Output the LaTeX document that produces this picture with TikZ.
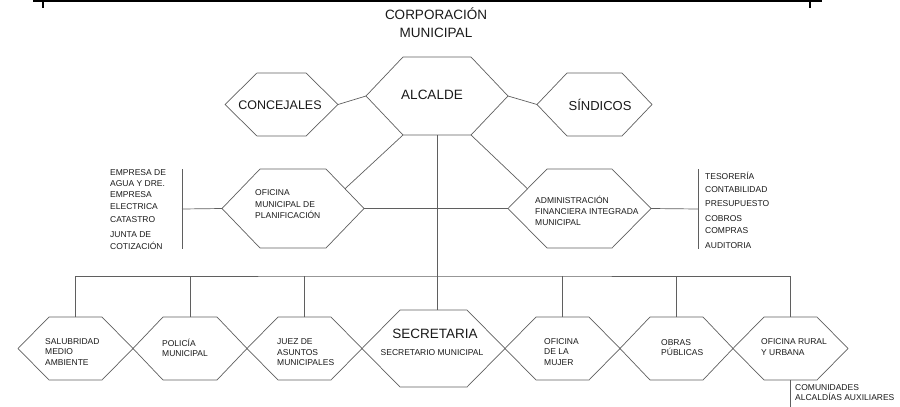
\documentclass[tikz,border=0pt]{standalone}
\usepackage{fontspec}
\setmainfont{Liberation Sans}
\usetikzlibrary{calc}

\definecolor{LineGray}{RGB}{95,95,95}
\definecolor{TextDark}{RGB}{25,25,25}

% hexagon: name, x, y, width, height, inset
\newcommand{\hexbox}[6]{%
  \node[hexcore, minimum width=#4pt, minimum height=#5pt] (#1) at (#2,#3) {};
  \draw[hexline] (#1.west) -- ([xshift=#6pt]#1.north west) -- ([xshift=-#6pt]#1.north east)
    -- (#1.east) -- ([xshift=-#6pt]#1.south east) -- ([xshift=#6pt]#1.south west) -- cycle;
}

\tikzset{
  hexcore/.style={rectangle, inner sep=0pt, outer sep=0pt},
  hexline/.style={draw=LineGray, line width=0.7pt},
  link/.style={draw=LineGray, line width=0.7pt},
  bigtext/.style={font=\fontsize{13.5}{16}\selectfont, text=TextDark, inner sep=0pt},
  smalltext/.style={font=\fontsize{8.5}{#1}\selectfont, align=left, anchor=west, inner sep=0pt, text=TextDark},
  smalltext/.default=10.5
}

\begin{document}
\begin{tikzpicture}[x=1pt, y=-1pt]
\useasboundingbox (0,0) rectangle (900,407);

% Top rule
\draw[line width=1.6pt] (33,1) -- (822,1);
\draw[line width=2pt] (43,1) -- (43,8);
\draw[line width=2pt] (810,1) -- (810,8);

% Title
\node[bigtext, align=center, font=\fontsize{13.5}{18}\selectfont] (corp) at (436,23) {CORPORACIÓN\\MUNICIPAL};

% Top row
\hexbox{alc}{437}{96}{142}{78}{37}
\hexbox{conc}{281.5}{104.5}{113}{63}{32}
\hexbox{sind}{594.5}{104.5}{115}{63}{30}
\node[bigtext] (alc-t) at (432,95) {ALCALDE};
\node[bigtext, font=\fontsize{12.5}{15}\selectfont] (conc-t) at (280,105) {CONCEJALES};
\node[bigtext, font=\fontsize{13}{15}\selectfont] (sind-t) at (600,105) {SÍNDICOS};

\draw[link] (conc.east) -- (alc.west);
\draw[link] (alc.east) -- (sind.west);

% Middle row
\hexbox{ofi}{293}{208.5}{142}{79}{38}
\hexbox{adm}{579.5}{208.5}{143}{79}{39}
\node[smalltext=11.5] (ofi-t) at (255,204.5) {OFICINA\\MUNICIPAL DE\\PLANIFICACIÓN};
\node[smalltext=11] (adm-t) at (535,211) {ADMINISTRACIÓN\\FINANCIERA INTEGRADA\\MUNICIPAL};

\draw[link] ([xshift=37pt]alc.south west) -- ($(ofi.east)!0.5!([xshift=-38pt]ofi.north east)$);
\draw[link] ([xshift=-37pt]alc.south east) -- ($(adm.west)!0.5!([xshift=39pt]adm.north west)$);
\draw[link] (ofi.east) -- (adm.west);

% Side lists
\coordinate (lbar) at (182,209);
\coordinate (rbar) at (698,209);
\draw[link] (ofi.west) -- (lbar);
\draw[link] ([yshift=40pt]lbar) -- ([yshift=-40pt]lbar);
\draw[link] (adm.east) -- (rbar);
\draw[link] ([yshift=40pt]rbar) -- ([yshift=-40pt]rbar);
\node[smalltext=11] (lst-l) at (110,210) {EMPRESA DE\\AGUA Y DRE.\\EMPRESA\\[1pt]ELECTRICA\\[2pt]CATASTRO\\[4pt]JUNTA DE\\[1pt]COTIZACIÓN};
\node[smalltext=12] (lst-r) at (705,210.5) {TESORERÍA\\[1pt]CONTABILIDAD\\[2pt]PRESUPUESTO\\[3pt]COBROS\\COMPRAS\\[3pt]AUDITORIA};

% Bottom row
\hexbox{salu}{75.5}{348.5}{115}{63}{31}
\hexbox{poli}{190}{348.5}{114}{63}{30}
\hexbox{juez}{304.5}{348.5}{115}{63}{31}
\hexbox{secr}{433.5}{348.5}{143}{77}{38}
\hexbox{muj}{562.5}{348.5}{115}{63}{31}
\hexbox{obras}{676.5}{348.5}{113}{63}{30}
\hexbox{rural}{790.5}{348.5}{115}{63}{31}

\node[smalltext] (salu-t) at (45,352) {SALUBRIDAD\\MEDIO\\AMBIENTE};
\node[smalltext] (poli-t) at (162,348) {POLICÍA\\MUNICIPAL};
\node[smalltext] (juez-t) at (277,352.5) {JUEZ DE\\ASUNTOS\\MUNICIPALES};
\node[bigtext] (secr-t) at (435,334) {SECRETARIA};
\node[smalltext, anchor=center] (secr-s) at (432,353) {SECRETARIO MUNICIPAL};
\node[smalltext] (muj-t) at (544,352) {OFICINA\\DE LA\\MUJER};
\node[smalltext] (obras-t) at (661,347.5) {OBRAS\\PÚBLICAS};
\node[smalltext] (rural-t) at (761,347) {OFICINA RURAL\\Y URBANA};

% Bus
\coordinate (bus) at (437,276);
\draw[link] (alc.south) -- (alc.south |- secr.north);
\draw[link] (salu.north) |- (bus) -| (rural.north);
\foreach \n in {poli, juez, muj, obras} {
  \draw[link] (\n.north) -- (\n.north |- bus);
}

% Below rural office
\draw[link] (rural.south) -- ([yshift=-27pt]rural.south);
\node[smalltext=10] (com-t) at (795,393) {COMUNIDADES\\ALCALDÍAS AUXILIARES};
\end{tikzpicture}
\end{document}
